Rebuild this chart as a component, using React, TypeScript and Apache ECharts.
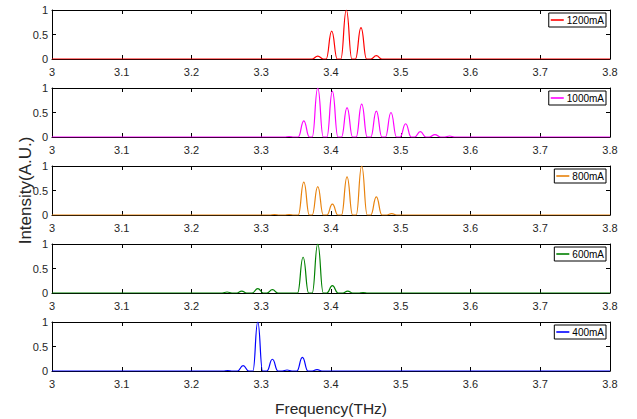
import React, { useEffect, useRef } from "react";
import * as echarts from "echarts";

// ---- data ----
const X_MIN = 3;
const X_MAX = 3.8;
const X_STEP = 0.1;
const Y_MIN = 0;
const Y_MAX = 1;
const Y_STEP = 0.5;

const seriesNames = ["1200mA", "1000mA", "800mA", "600mA", "400mA"];
const seriesColors = ["#ff0000", "#ff00ff", "#e8820c", "#008000", "#0000ff"];

const s1200: [number, number][] = [
  [3.0, 0], [3.373, 0], [3.381, 0.06], [3.389, 0],
  [3.393, 0], [3.401, 0.57], [3.409, 0],
  [3.414, 0], [3.422, 1.0], [3.430, 0],
  [3.435, 0], [3.443, 0.64], [3.451, 0],
  [3.457, 0], [3.465, 0.07], [3.473, 0], [3.8, 0],
];

const s1000: [number, number][] = [
  [3.0, 0], [3.333, 0], [3.340, 0.01], [3.347, 0],
  [3.353, 0], [3.361, 0.33], [3.369, 0],
  [3.373, 0], [3.381, 1.0], [3.389, 0],
  [3.394, 0], [3.402, 0.93], [3.410, 0],
  [3.415, 0], [3.423, 0.6], [3.431, 0],
  [3.436, 0], [3.444, 0.67], [3.452, 0],
  [3.457, 0], [3.465, 0.53], [3.473, 0],
  [3.478, 0], [3.486, 0.5], [3.494, 0],
  [3.499, 0], [3.507, 0.27], [3.515, 0],
  [3.520, 0], [3.528, 0.11], [3.536, 0],
  [3.541, 0], [3.549, 0.05], [3.557, 0],
  [3.563, 0], [3.570, 0.02], [3.577, 0], [3.8, 0],
];

const s800: [number, number][] = [
  [3.0, 0], [3.312, 0], [3.319, 0.01], [3.326, 0],
  [3.333, 0], [3.340, 0.01], [3.347, 0],
  [3.353, 0], [3.361, 0.67], [3.369, 0],
  [3.373, 0], [3.381, 0.58], [3.389, 0],
  [3.394, 0], [3.402, 0.22], [3.410, 0],
  [3.415, 0], [3.423, 0.78], [3.431, 0],
  [3.436, 0], [3.444, 1.0], [3.452, 0],
  [3.457, 0], [3.465, 0.37], [3.473, 0],
  [3.480, 0], [3.487, 0.03], [3.494, 0], [3.8, 0],
];

const s600: [number, number][] = [
  [3.0, 0], [3.244, 0], [3.251, 0.02], [3.258, 0],
  [3.265, 0], [3.272, 0.04], [3.279, 0],
  [3.287, 0], [3.295, 0.09], [3.303, 0],
  [3.308, 0], [3.316, 0.07], [3.324, 0],
  [3.352, 0], [3.360, 0.73], [3.368, 0],
  [3.373, 0], [3.381, 1.0], [3.389, 0],
  [3.394, 0], [3.402, 0.15], [3.410, 0],
  [3.417, 0], [3.424, 0.04], [3.431, 0],
  [3.439, 0], [3.446, 0.01], [3.453, 0], [3.8, 0],
];

const s400: [number, number][] = [
  [3.0, 0], [3.245, 0], [3.252, 0.01], [3.259, 0],
  [3.266, 0], [3.274, 0.11], [3.282, 0],
  [3.288, 0], [3.295, 1.0], [3.302, 0],
  [3.308, 0], [3.316, 0.24], [3.324, 0],
  [3.330, 0], [3.337, 0.02], [3.344, 0],
  [3.351, 0], [3.359, 0.28], [3.367, 0],
  [3.373, 0], [3.380, 0.03], [3.387, 0], [3.8, 0],
];

const seriesData = [s1200, s1000, s800, s600, s400];

const xTitle = "Frequency(THz)";
const yTitle = "Intensity(A.U.)";

// ---- layout ----
const W = 637;
const H = 419;
const GRID_LEFT = 52;
const GRID_WIDTH = 558;
const GRID_TOP0 = 10;
const GRID_PITCH = 78;
const GRID_HEIGHT = 49;
const FONT = "Arial, 'Liberation Sans', Helvetica, sans-serif";
const TEXT = "#262626";

function fmt(v: number) {
  return String(Number(v.toFixed(2)));
}

export default function App() {
  const ref = useRef<HTMLDivElement>(null);

  useEffect(() => {
    if (!ref.current) return;
    const chart = echarts.init(ref.current, undefined, { renderer: "svg", width: W, height: H });

    const grids: any[] = [];
    const xAxes: any[] = [];
    const yAxes: any[] = [];
    const series: any[] = [];
    const legends: any[] = [];

    const n = seriesNames.length;
    for (let i = 0; i < n; i++) {
      const top = GRID_TOP0 + GRID_PITCH * i;
      grids.push({ left: GRID_LEFT, top, width: GRID_WIDTH, height: GRID_HEIGHT, containLabel: false });

      const axisLine = { show: true, onZero: false, lineStyle: { color: "#000", width: 1 } };
      const axisTick = { show: true, inside: true, length: 4, lineStyle: { color: "#000", width: 1 } };

      xAxes.push({
        gridIndex: i,
        type: "value",
        position: "bottom",
        min: X_MIN,
        max: X_MAX,
        interval: X_STEP,
        axisLine,
        axisTick,
        splitLine: { show: false },
        axisLabel: {
          show: true,
          margin: 7,
          fontSize: 11,
          fontFamily: FONT,
          color: TEXT,
          showMinLabel: true,
          showMaxLabel: true,
          formatter: (v: number) => fmt(v),
        },
        ...(i === n - 1
          ? {
              name: xTitle,
              nameLocation: "middle",
              nameGap: 29,
              nameTextStyle: { fontSize: 15.5, fontFamily: FONT, color: TEXT },
            }
          : {}),
      });
      xAxes.push({
        gridIndex: i,
        type: "value",
        position: "top",
        min: X_MIN,
        max: X_MAX,
        interval: X_STEP,
        axisLine,
        axisTick,
        splitLine: { show: false },
        axisLabel: { show: false },
      });

      yAxes.push({
        gridIndex: i,
        type: "value",
        position: "left",
        min: Y_MIN,
        max: Y_MAX,
        interval: Y_STEP,
        axisLine,
        axisTick,
        splitLine: { show: false },
        axisLabel: {
          show: true,
          margin: 4,
          fontSize: 11,
          fontFamily: FONT,
          color: TEXT,
          formatter: (v: number) => fmt(v),
        },
      });
      yAxes.push({
        gridIndex: i,
        type: "value",
        position: "right",
        min: Y_MIN,
        max: Y_MAX,
        interval: Y_STEP,
        axisLine,
        axisTick,
        splitLine: { show: false },
        axisLabel: { show: false },
      });

      series.push({
        name: seriesNames[i],
        type: "line",
        xAxisIndex: 2 * i,
        yAxisIndex: 2 * i,
        data: seriesData[i],
        showSymbol: false,
        symbol: "none",
        smooth: 0.5,
        smoothMonotone: "x",
        color: seriesColors[i],
        lineStyle: { color: seriesColors[i], width: 1.2 },
        z: 3,
      });

      legends.push({
        data: [seriesNames[i]],
        right: W - 606,
        top: top + 3,
        orient: "horizontal",
        icon: "rect",
        itemWidth: 13,
        itemHeight: 1.6,
        padding: [2, 2, 2, 2],
        borderColor: "#000",
        borderWidth: 1,
        backgroundColor: "#fff",
        selectedMode: false,
        textStyle: { fontSize: 10, fontFamily: FONT, color: "#000", padding: [0, 0, 0, -2] },
        z: 10,
      });
    }

    chart.setOption({
      animation: false,
      backgroundColor: "#fff",
      grid: grids,
      xAxis: xAxes,
      yAxis: yAxes,
      series,
      legend: legends,
      graphic: [
        {
          type: "text",
          x: 25,
          y: GRID_TOP0 + GRID_PITCH * 2 + GRID_HEIGHT / 2,
          rotation: Math.PI / 2,
          style: {
            text: yTitle,
            align: "center",
            verticalAlign: "middle",
            fontSize: 17,
            fontFamily: FONT,
            fill: TEXT,
          },
        },
      ],
    });

    return () => chart.dispose();
  }, []);

  return (
    <div
      ref={ref}
      style={{ position: "fixed", left: 0, top: 0, width: W, height: H, background: "#fff" }}
    />
  );
}
